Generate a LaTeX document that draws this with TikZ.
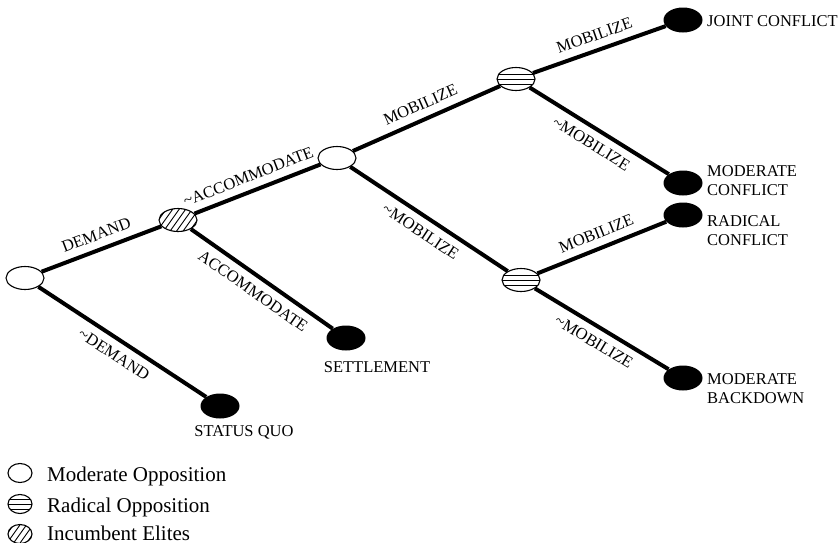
\documentclass[tikz,border=0pt]{standalone}
\usepackage{fontspec}
\setmainfont{Liberation Serif}
\usetikzlibrary{shapes.geometric}
\begin{document}
\begin{tikzpicture}[x=1pt,y=-1pt,
  choice/.style={ellipse, draw, line width=1.1pt, fill=white, minimum width=38pt, minimum height=23pt, inner sep=0pt},
  small/.style={minimum width=24pt, minimum height=19pt},
  modopp/.style={choice},
  radopp/.style={choice, path picture={\foreach \d in {-5,0,5} \draw[line width=0.9pt] ([yshift=\d pt]path picture bounding box.west) -- ([yshift=\d pt]path picture bounding box.east);}},
  elite/.style={choice, path picture={\foreach \k in {-6,...,6} \draw[line width=0.9pt] ([xshift={\k*6.5pt}]path picture bounding box.center) ++(-10,14) -- ++(20,-28);}},
  outcome/.style={ellipse, fill=black, minimum width=39pt, minimum height=25pt, inner sep=0pt},
  move/.style={line width=4pt},
  lab/.style={font=\fontsize{16.5}{19}\selectfont, sloped, inner sep=0pt},
  labup/.style={lab, above=7.5pt},
  labdn/.style={lab, below=7.5pt},
  endtext/.style={font=\fontsize{16.5}{19.5}\selectfont, align=left, inner sep=0pt, anchor=north west},
  legtext/.style={font=\fontsize{21}{24}\selectfont, inner sep=0pt, anchor=base west}
]
\useasboundingbox (0,0) rectangle (840,542);

% decision nodes
\node[modopp] (root) at (25,278) {};
\node[elite] (elite) at (178,220) {};
\node[modopp] (mod2) at (337,158) {};
\node[radopp] (radtop) at (516,79) {};
\node[radopp] (radbot) at (521,280) {};

% outcomes
\node[outcome] (joint) at (683,20) {};
\node[outcome] (modconf) at (683,183) {};
\node[outcome] (radconf) at (683,215) {};
\node[outcome] (backdown) at (683,378) {};
\node[outcome] (settle) at (346,338) {};
\node[outcome] (squo) at (220,406) {};

% moves
\draw[move] (root) -- node[labup] {DEMAND} (elite);
\draw[move] (root) -- node[labdn] {\textasciitilde DEMAND} (squo);
\draw[move] (elite) -- node[labup, pos=0.47] {\textasciitilde ACCOMMODATE} (mod2);
\draw[move] (elite) -- node[labdn] {ACCOMMODATE} (settle);
\draw[move] (mod2) -- node[labup] {MOBILIZE} (radtop);
\draw[move] (mod2) -- node[labdn] {\textasciitilde MOBILIZE} (radbot);
\draw[move] (radtop) -- node[labup] {MOBILIZE} (joint);
\draw[move] (radtop) -- node[labdn] {\textasciitilde MOBILIZE} (modconf);
\draw[move] (radbot) -- node[labup] {MOBILIZE} (radconf);
\draw[move] (radbot) -- node[labdn] {\textasciitilde MOBILIZE} (backdown);

% outcome labels
\node[endtext] (tjoint) at (707,15) {JOINT CONFLICT};
\node[endtext] (tmodconf) at (707,165) {MODERATE\\CONFLICT};
\node[endtext] (tradconf) at (707,215) {RADICAL\\CONFLICT};
\node[endtext] (tback) at (707,373) {MODERATE\\BACKDOWN};
\node[endtext, anchor=north] (tsettle) at (377,361) {SETTLEMENT};
\node[endtext, anchor=north] (tsquo) at (244,425) {STATUS QUO};

% legend
\node[modopp, small] (lg1) at (20,473) {};
\node[radopp, small] (lg2) at (20,504) {};
\node[elite, small] (lg3) at (20,534) {};
\node[legtext] (lt1) at (47,481) {Moderate Opposition};
\node[legtext] (lt2) at (47,512) {Radical Opposition};
\node[legtext] (lt3) at (47,540) {Incumbent Elites};
\end{tikzpicture}
\end{document}
